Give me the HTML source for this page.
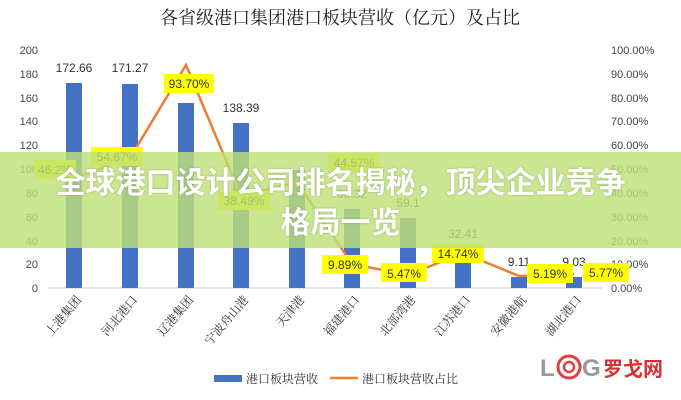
<!DOCTYPE html>
<html><head><meta charset="utf-8"><style>
body{margin:0;width:681px;height:400px;background:#fff;overflow:hidden;position:relative;font-family:"Liberation Sans","Noto Sans CJK SC",sans-serif}
svg{position:absolute;left:0;top:0}
.banner{position:absolute;left:0;top:152px;width:681px;height:96px;background:rgba(190,225,120,0.82);color:#fff;font-weight:bold;font-size:30px;text-align:center;line-height:40px;padding-top:8px;box-sizing:border-box;font-family:"Noto Sans CJK SC",sans-serif;text-shadow:0 0 2px rgba(0,0,0,0.25)}
</style></head><body>
<svg width="681" height="400" font-family="Liberation Sans, Noto Sans CJK SC, sans-serif">
<text x="340" y="24" font-size="18" text-anchor="middle" fill="#222" font-family="Noto Serif CJK SC, serif">各省级港口集团港口板块营收（亿元）及占比</text>
<g font-size="11" fill="#444" text-anchor="end">
<text x="38" y="54">200</text><text x="38" y="78">180</text><text x="38" y="102">160</text><text x="38" y="125">140</text><text x="38" y="149">120</text><text x="38" y="173">100</text><text x="38" y="197">80</text><text x="38" y="221">60</text><text x="38" y="245">40</text><text x="38" y="268">20</text><text x="38" y="292">0</text>
</g>
<g font-size="11" fill="#444">
<text x="611" y="54">100.00%</text><text x="611" y="78">90.00%</text><text x="611" y="102">80.00%</text><text x="611" y="125">70.00%</text><text x="611" y="149">60.00%</text><text x="611" y="173">50.00%</text><text x="611" y="197">40.00%</text><text x="611" y="221">30.00%</text><text x="611" y="245">20.00%</text><text x="611" y="268">10.00%</text><text x="611" y="292">0.00%</text>
</g>
<line x1="48" y1="288" x2="602" y2="288" stroke="#ccc"/>
<g fill="#4472c4">
<rect x="66" y="83" width="16" height="205"/>
<rect x="122" y="84" width="16" height="204"/>
<rect x="178" y="103" width="16" height="185"/>
<rect x="233" y="123" width="16" height="165"/>
<rect x="289" y="170" width="16" height="118"/>
<rect x="344" y="209" width="16" height="79"/>
<rect x="400" y="218" width="16" height="70"/>
<rect x="455" y="249" width="16" height="39"/>
<rect x="511" y="277" width="16" height="11"/>
<rect x="566" y="277" width="16" height="11"/>
</g>
<g font-size="12" fill="#333" text-anchor="middle">
<text x="74" y="72">172.66</text><text x="130" y="72">171.27</text><text x="241" y="112">138.39</text>
<text x="352" y="198">66.32</text><text x="408" y="207">59.1</text><text x="463" y="238">32.41</text><text x="519" y="266">9.11</text><text x="574" y="266">9.03</text>
</g>
<polyline fill="none" stroke="#ed7d31" stroke-width="2.5" points="74,178 130,158 186,65 241,196 297,182 352,264 408,275 463,253 519,276 574,274"/>
<g font-size="12" fill="#333" text-anchor="middle">
<rect x="34" y="160" width="42" height="19" fill="#ffff00"/><text x="55" y="174">46.2%</text>
<rect x="91" y="147" width="52" height="19" fill="#ffff00"/><text x="117" y="161">54.67%</text>
<rect x="164" y="74" width="50" height="19" fill="#ffff00"/><text x="189" y="88">93.70%</text>
<rect x="218" y="191" width="52" height="19" fill="#ffff00"/><text x="244" y="205">38.49%</text>
<rect x="328" y="153" width="52" height="19" fill="#ffff00"/><text x="354" y="167">44.57%</text>
<rect x="322" y="255" width="46" height="19" fill="#ffff00"/><text x="345" y="269">9.89%</text>
<rect x="381" y="263" width="46" height="19" fill="#ffff00"/><text x="404" y="278">5.47%</text>
<rect x="432" y="244" width="52" height="19" fill="#ffff00"/><text x="458" y="258">14.74%</text>
<rect x="527" y="264" width="46" height="19" fill="#ffff00"/><text x="550" y="278">5.19%</text>
<rect x="583" y="263" width="46" height="19" fill="#ffff00"/><text x="606" y="277">5.77%</text>
</g>
<g font-size="12" fill="#333" font-family="Noto Serif CJK SC, serif">
<text transform="translate(82,300) rotate(-50)" text-anchor="end">上港集团</text>
<text transform="translate(138,300) rotate(-50)" text-anchor="end">河北港口</text>
<text transform="translate(194,300) rotate(-50)" text-anchor="end">辽港集团</text>
<text transform="translate(249,300) rotate(-50)" text-anchor="end">宁波舟山港</text>
<text transform="translate(305,300) rotate(-50)" text-anchor="end">天津港</text>
<text transform="translate(360,300) rotate(-50)" text-anchor="end">福建港口</text>
<text transform="translate(416,300) rotate(-50)" text-anchor="end">北部湾港</text>
<text transform="translate(471,300) rotate(-50)" text-anchor="end">江苏港口</text>
<text transform="translate(527,300) rotate(-50)" text-anchor="end">安徽港航</text>
<text transform="translate(582,300) rotate(-50)" text-anchor="end">湖北港口</text>
</g>
<rect x="214" y="375" width="28" height="7" fill="#4472c4"/>
<text x="246" y="383" font-size="12" fill="#333" font-family="Noto Serif CJK SC, serif">港口板块营收</text>
<line x1="330" y1="378" x2="358" y2="378" stroke="#ed7d31" stroke-width="2.5"/>
<text x="362" y="383" font-size="12" fill="#333" font-family="Noto Serif CJK SC, serif">港口板块营收占比</text>
<text x="540" y="376" font-size="24" font-weight="bold" fill="#999">L</text>
<circle cx="569" cy="367" r="11" fill="none" stroke="#e04040" stroke-width="3"/>
<circle cx="569" cy="367" r="5" fill="none" stroke="#e04040" stroke-width="2.5"/>
<text x="582" y="376" font-size="24" font-weight="bold" fill="#999">G</text>
<text x="603" y="376" font-size="20" font-weight="bold" fill="#d83030" font-family="Noto Sans CJK SC, sans-serif">罗戈网</text>
</svg>
<div class="banner">全球港口设计公司排名揭秘，顶尖企业竞争<br>格局一览</div>
</body></html>
